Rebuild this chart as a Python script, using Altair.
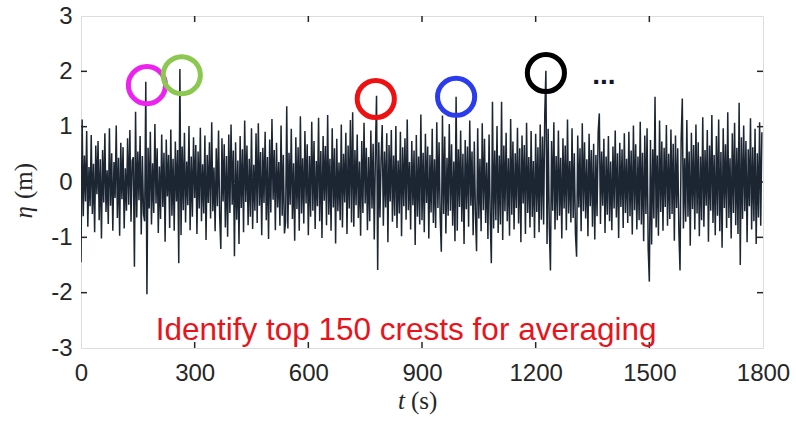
import altair as alt
import pandas as pd

# time step of 3 s, 0..1797 s
eta_rows = [
    [-1.45, 1.13, -0.62, 0.48, -0.35, 0.92, -0.81, 0.27, -0.44, 0.85, -0.58, 0.33, -0.91, 0.66, -0.22, 0.74, -0.69, 0.41, -1.02, 0.58],
    [-0.37, 0.88, -0.54, 0.21, -0.76, 0.97, -0.43, 0.52, -0.88, 0.36, -0.29, 1.02, -0.65, 0.44, -0.97, 0.71, -0.31, 0.63, -0.84, 0.25],
    [-0.52, 0.79, -0.41, 0.94, -0.72, 0.38, 0.45, -1.53, 1.27, -0.64, 0.55, -0.33, 0.83, -0.95, 0.47, -0.58, -0.71, 1.81, -2.03, 0.62],
    [-0.48, 0.91, -0.77, 0.34, -0.56, 1.05, -0.39, 0.61, -0.92, 0.28, -0.67, 0.86, -0.45, 0.53, -1.08, 0.77, -0.26, 0.49, -0.83, 0.95],
    [-0.61, 0.42, -0.88, 0.73, -0.35, 0.58, -1.47, 2.04, -0.96, 0.64, -0.51, 0.89, -0.73, 0.37, -0.42, 1.01, -0.87, 0.46, -0.63, 0.81],
    [-0.29, 0.67, -0.94, 0.55, -0.48, 0.98, -0.71, 0.32, -0.57, 0.84, -1.05, 0.49, -0.38, 0.72, -0.66, 1.08, -0.53, 0.26, -0.89, 0.61],
    [-0.44, 0.93, -0.62, -1.21, 0.79, -0.35, 0.68, -0.82, 0.47, -0.99, 0.86, -0.56, 1.04, -0.41, 0.57, -1.34, 0.72, -0.68, 0.39, -1.12],
    [0.83, -0.47, 0.59, -0.91, 1.11, -0.36, 0.66, -0.78, 0.42, -0.63, 0.97, -0.85, 0.31, -0.52, 0.88, -0.74, 1.06, -0.43, 0.54, -0.96],
    [0.62, -0.38, 0.91, -0.69, 0.45, -1.03, 0.77, -0.55, 1.14, -0.32, 0.58, -0.87, 0.71, -0.46, 0.36, -0.79, 1.02, -0.61, 0.49, -0.93],
    [-0.72, 1.37, -0.84, 0.53, -0.41, 0.96, -0.67, 0.34, -1.06, 0.81, -0.49, 0.63, -0.88, 1.19, -0.57, 0.43, -0.75, 0.92, -0.39, 0.68],
    [-0.96, 0.47, -0.63, 1.09, -0.52, 0.74, -0.85, 0.38, -0.44, 1.16, -0.71, 0.56, -1.01, 0.83, -0.34, 0.65, -0.78, 1.21, -0.59, 0.42],
    [-0.88, 0.97, -0.46, 0.61, -1.11, 0.78, -0.53, 0.35, -0.69, 1.04, -0.82, 0.51, -0.37, 0.89, -0.94, 0.66, -0.48, 1.12, -0.73, 1.26],
    [-0.81, 0.58, -0.42, 0.86, -0.65, 0.37, -0.97, 0.74, -0.56, 1.07, -0.39, 0.62, -0.87, 0.45, -0.71, 0.93, -0.48, 0.69, -1.04, 0.52],
    [1.56, -1.59, 0.72, -0.64, 0.41, 1.03, -0.79, 0.55, -0.46, 0.88, -1.09, 0.67, -0.35, 0.94, -0.72, 0.48, -0.61, 1.01, -0.83, 0.39],
    [-0.57, 0.91, -0.98, 0.63, -0.44, 0.79, -0.68, 1.13, -0.51, 0.36, -0.86, 0.74, -0.42, 0.57, -1.14, 0.85, -0.63, 0.46, -0.77, 1.22],
    [-0.69, 0.53, -0.91, 0.87, -0.38, 0.64, -1.02, 0.49, -0.55, 0.96, -0.74, 0.41, -0.83, 1.08, -0.47, 0.72, -0.64, -1.26, 1.20, -0.58],
    [0.82, -0.93, 0.44, -0.61, 1.05, -0.52, 0.68, -0.79, 0.37, -1.07, 1.54, -0.88, 0.59, -0.45, 0.93, -0.72, 0.51, -1.12, 0.76, -0.49],
    [0.64, -0.81, 1.11, -0.43, 0.55, -0.96, 0.73, -0.58, -1.25, 0.97, -0.66, 0.42, -0.89, 1.06, -0.51, 0.78, -0.74, 0.35, -1.03, 0.86],
    [-0.62, -1.47, 1.45, -0.84, 0.57, -0.69, 1.01, -0.92, 0.48, -0.77, 1.45, -1.05, 0.66, -0.53, 0.89, -0.71, 0.43, -0.97, 1.14, -0.59],
    [0.73, -0.86, 0.52, -0.47, 0.98, -0.75, 0.61, -1.09, 0.84, -0.39, 0.67, -0.94, 1.07, -0.56, 0.45, -0.82, 0.92, -0.63, 0.38, -1.01],
    [0.87, -0.54, 0.63, -0.91, 1.04, -0.68, 0.82, -0.77, 1.22, 2.01, -1.12, 0.96, -0.83, -1.60, 0.74, -0.52, 1.08, -0.86, 0.47, -0.69],
    [0.93, -0.61, 0.44, -1.02, 0.79, -0.48, 0.66, -0.87, 1.13, -0.57, 0.38, -0.73, 0.97, -0.65, 0.52, -0.94, -1.35, 0.84, -0.46, 0.61],
    [-0.89, 1.06, -0.53, 0.72, -0.66, 0.41, -0.98, 0.87, -0.44, 0.58, -0.81, 0.69, -1.04, 0.49, -0.62, 0.91, 1.24, -0.76, 0.55, -0.43],
    [0.78, -0.92, 0.46, -0.59, 0.83, -0.71, 0.37, -0.87, 0.64, -0.48, 0.93, -0.64, 0.52, -1.01, 0.71, -0.45, 0.59, -0.83, 0.88, -0.56],
    [0.42, -0.74, 0.91, -0.62, 0.57, -0.95, 1.02, -0.51, 0.68, -0.86, 0.46, -0.69, 1.09, -0.77, 0.53, -1.07, 0.84, -0.58, 0.97, -1.21],
    [-1.80, 0.76, -1.13, 0.59, -0.66, 1.54, -0.82, 0.48, -0.97, 1.11, -0.54, 0.73, -0.88, 0.62, -0.45, 1.03, -0.79, 0.51, -0.67, 0.95],
    [-0.58, 0.69, -1.06, 0.84, -0.47, 0.61, -0.91, -1.60, 0.78, 1.51, -0.84, 0.43, -0.72, 1.12, -0.63, 0.55, -1.15, 0.89, -0.49, 0.67],
    [-0.86, 1.04, -0.57, 0.72, -0.98, 0.46, -0.69, 1.17, -0.81, 0.58, -0.43, 0.94, -1.08, 0.66, -0.52, 1.21, -0.74, 0.49, -0.96, 0.83],
    [-0.61, 1.13, -0.89, 0.54, -1.19, 0.97, -0.47, 0.68, -0.83, 1.26, -0.65, 0.43, -1.02, 0.88, -0.56, 1.07, -0.78, 0.62, -0.94, 1.43],
    [-1.50, 0.81, -0.67, 1.02, -0.53, 0.74, -1.09, 0.59, -0.44, 1.15, -0.86, 0.63, -0.71, 0.96, -1.12, 0.52, -0.64, 1.08, -0.79, 0.90],
]
dt = 3
eta = [v for row in eta_rows for v in row]
t = [i * dt for i in range(len(eta))]

# highlighted crests (circle centres)
circ_t = [174, 266, 778, 990, 1227]
circ_eta = [1.75, 1.93, 1.50, 1.54, 1.97]
circ_color = ["#ee22ee", "#8cc850", "#ee1111", "#2a3cee", "#000000"]

x_ticks = [0, 300, 600, 900, 1200, 1500, 1800]
y_ticks = [-3, -2, -1, 0, 1, 2, 3]

W, H = 682, 332
XD = [0, 1800]
YD = [-3, 3]

xs = alt.Scale(domain=XD, nice=False, zero=False)
ys = alt.Scale(domain=YD, nice=False, zero=False)

df = pd.DataFrame({"t": t, "eta": eta})

INK = "#262626"

line = alt.Chart(df).mark_line(color="#1c2633", strokeWidth=1.5, clip=True).encode(
    x=alt.X("t:Q", scale=xs,
            axis=alt.Axis(values=x_ticks, title=None, grid=False, domain=False, ticks=False,
                          labelExpr="datum.value + ''",
                          labelFont="Liberation Sans", labelFontSize=24, labelColor=INK,
                          labelPadding=13, labelFlush=False)),
    y=alt.Y("eta:Q", scale=ys,
            axis=alt.Axis(values=y_ticks, title=None, grid=False, domain=False, ticks=False,
                          labelExpr="datum.value + ''",
                          labelFont="Liberation Sans", labelFontSize=24, labelColor=INK,
                          labelPadding=9, labelFlush=False)),
)

# inward ticks (MATLAB style)
xt_df = pd.DataFrame({"t": x_ticks[1:-1]})
xtick_b = alt.Chart(xt_df).mark_rule(color=INK, strokeWidth=1.5).encode(
    x=alt.X("t:Q", scale=xs), y=alt.value(H), y2=alt.value(H - 6))
xtick_t = alt.Chart(xt_df).mark_rule(color=INK, strokeWidth=1.5).encode(
    x=alt.X("t:Q", scale=xs), y=alt.value(0), y2=alt.value(6))
yt_df = pd.DataFrame({"eta": y_ticks[1:-1]})
ytick_l = alt.Chart(yt_df).mark_rule(color=INK, strokeWidth=1.5).encode(
    y=alt.Y("eta:Q", scale=ys), x=alt.value(0), x2=alt.value(6))
ytick_r = alt.Chart(yt_df).mark_rule(color=INK, strokeWidth=1.5).encode(
    y=alt.Y("eta:Q", scale=ys), x=alt.value(W), x2=alt.value(W - 6))

cdf = pd.DataFrame({"t": circ_t, "eta": circ_eta, "c": circ_color})
circles = alt.Chart(cdf).mark_point(shape="circle", filled=False, size=1380, strokeWidth=5, opacity=1).encode(
    x=alt.X("t:Q", scale=xs), y=alt.Y("eta:Q", scale=ys),
    color=alt.Color("c:N", scale=None))

dots = alt.Chart(pd.DataFrame({"t": [1380], "eta": [1.77], "s": ["..."]})).mark_text(
    font="Liberation Sans", fontSize=28, fontWeight="bold", color="#14142e", baseline="alphabetic"
).encode(x=alt.X("t:Q", scale=xs), y=alt.Y("eta:Q", scale=ys), text="s:N")

note = alt.Chart(pd.DataFrame({"t": [858], "eta": [-2.86], "s": ["Identify top 150 crests for averaging"]})).mark_text(
    font="Liberation Sans", fontSize=31.5, color="#e8141c", baseline="alphabetic", align="center"
).encode(x=alt.X("t:Q", scale=xs), y=alt.Y("eta:Q", scale=ys), text="s:N")

# axis titles: italic symbol + upright unit
x_sym = alt.Chart(pd.DataFrame({"s": ["t"]})).mark_text(
    font="Liberation Serif", fontSize=25, fontStyle="italic", color=INK, align="right", baseline="alphabetic"
).encode(x=alt.value(324), y=alt.value(H + 61), text="s:N")
x_unit = alt.Chart(pd.DataFrame({"s": ["(s)"]})).mark_text(
    font="Liberation Serif", fontSize=25, color=INK, align="left", baseline="alphabetic"
).encode(x=alt.value(330), y=alt.value(H + 61), text="s:N")
y_sym = alt.Chart(pd.DataFrame({"s": ["η"]})).mark_text(
    font="Liberation Serif", fontSize=25, fontStyle="italic", color=INK, align="right", baseline="alphabetic", angle=270
).encode(x=alt.value(-49), y=alt.value(190), text="s:N")
y_unit = alt.Chart(pd.DataFrame({"s": ["(m)"]})).mark_text(
    font="Liberation Serif", fontSize=25, color=INK, align="left", baseline="alphabetic", angle=270
).encode(x=alt.value(-49), y=alt.value(183), text="s:N")

chart = alt.layer(line, xtick_b, xtick_t, ytick_l, ytick_r, circles, dots, note,
                  x_sym, x_unit, y_sym, y_unit).properties(
    width=W, height=H,
    autosize=alt.AutoSizeParams(type="none"),
    padding={"left": 81, "top": 16, "right": 33, "bottom": 75},
).configure_view(stroke=INK, strokeWidth=1.5).configure(background="white")

chart.save("out.html", embed_options={"renderer": "svg", "actions": False})
